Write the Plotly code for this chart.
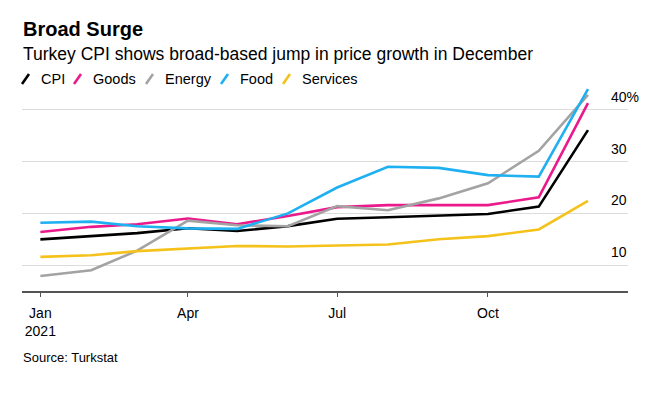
import plotly.graph_objects as go

# ---- data ----
months = ["2021-01-01", "2021-02-01", "2021-03-01", "2021-04-01", "2021-05-01", "2021-06-01",
          "2021-07-01", "2021-08-01", "2021-09-01", "2021-10-01", "2021-11-01", "2021-12-01"]
cpi      = [14.97, 15.61, 16.19, 17.14, 16.59, 17.53, 18.95, 19.25, 19.58, 19.89, 21.31, 36.08]
goods    = [16.4, 17.4, 17.9, 19.0, 17.9, 19.5, 21.2, 21.6, 21.6, 21.6, 23.1, 41.3]
energy   = [7.9, 9.0, 12.8, 18.6, 17.7, 17.5, 21.4, 20.6, 22.9, 25.8, 32.1, 42.9]
food     = [18.2, 18.4, 17.5, 17.1, 17.0, 20.0, 25.0, 29.0, 28.8, 27.4, 27.1, 44.0]
services = [11.6, 11.9, 12.7, 13.2, 13.7, 13.6, 13.8, 14.0, 15.0, 15.6, 16.9, 22.4]

series_names = ["CPI", "Goods", "Energy", "Food", "Services"]
series_values = [cpi, goods, energy, food, services]
colors = ["#000000", "#ea1a8c", "#a3a3a3", "#1fb0f2", "#f5c21b"]

x_tickvals = ["2021-01-01", "2021-04-01", "2021-07-01", "2021-10-01"]
x_ticktext = ["Jan<br>2021", "Apr", "Jul", "Oct"]
y_tickvals = [10, 20, 30, 40]
y_ticktext = ["10", "20", "30", "40%"]

title = "<b>Broad Surge</b>"
subtitle = "Turkey CPI shows broad-based jump in price growth in December"
source = "Source: Turkstat"

FONT = "Liberation Sans, Arial, Helvetica, sans-serif"
OFF = 8  # page body margin
W, H = 664 - OFF, 397 - OFF
L, T = 22 - OFF, 84 - OFF
PLOT_RIGHT, PLOT_BOTTOM = 628 - OFF, 291 - OFF
R, B = W - PLOT_RIGHT, H - PLOT_BOTTOM
PW, PH = W - L - R, H - T - B


def px(xp):
    return (xp - OFF - L) / PW


def py(yp):
    return (PLOT_BOTTOM - (yp - OFF)) / PH


fig = go.Figure()
for name, vals, c in zip(series_names, series_values, colors):
    fig.add_trace(go.Scatter(x=months, y=vals, mode="lines", name=name,
                             line=dict(color=c, width=2.6), showlegend=False,
                             hoverinfo="x+y+name"))

annotations = [
    dict(text=title, x=px(21), y=py(29), xref="paper", yref="paper", xanchor="left",
         yanchor="middle", showarrow=False, font=dict(family=FONT, size=20, color="#000")),
    dict(text=subtitle, x=px(21), y=py(54), xref="paper", yref="paper", xanchor="left",
         yanchor="middle", showarrow=False, font=dict(family=FONT, size=17.5, color="#000")),
    dict(text=source, x=px(20.5), y=py(357), xref="paper", yref="paper", xanchor="left",
         yanchor="middle", showarrow=False, font=dict(family=FONT, size=13, color="#000")),
]
shapes = []
legend_text_x = [40, 92, 164, 239, 301]
for name, c, tx in zip(series_names, colors, legend_text_x):
    annotations.append(dict(text=name, x=px(tx - 1), y=py(79), xref="paper", yref="paper",
                            xanchor="left", yanchor="middle", showarrow=False,
                            font=dict(family=FONT, size=14.5, color="#000")))
    shapes.append(dict(type="line", xref="paper", yref="paper",
                       x0=px(tx - 18), y0=py(84), x1=px(tx - 11), y1=py(74),
                       line=dict(color=c, width=2.6)))

fig.update_layout(
    width=W, height=H,
    margin=dict(l=L, r=R, t=T, b=B, autoexpand=False),
    paper_bgcolor="white", plot_bgcolor="white",
    font=dict(family=FONT, size=14, color="#000"),
    showlegend=False,
    annotations=annotations,
    shapes=shapes,
    xaxis=dict(
        type="date",
        range=["2020-12-20 19:00", "2021-12-25 10:00"],
        tickvals=x_tickvals, ticktext=x_ticktext,
        showgrid=False, showline=True, linecolor="#555555", linewidth=1.5,
        ticks="outside", ticklen=4, tickwidth=1.2, tickcolor="#555555",
        ticklabelstandoff=4,
        tickfont=dict(family=FONT, size=14, color="#000"),
        zeroline=False, fixedrange=True,
    ),
    yaxis=dict(
        range=[5, 45], side="right",
        tickvals=y_tickvals, ticktext=y_ticktext,
        showgrid=True, gridcolor="#dcdcdc", gridwidth=1,
        zeroline=False, showline=False, ticks="",
        ticklabelposition="outside",
        ticklabelstandoff=-18, ticklabelshift=-13,
        tickfont=dict(family=FONT, size=14, color="#000"),
        automargin=False, fixedrange=True,
    ),
)

fig.write_html("out.html")
